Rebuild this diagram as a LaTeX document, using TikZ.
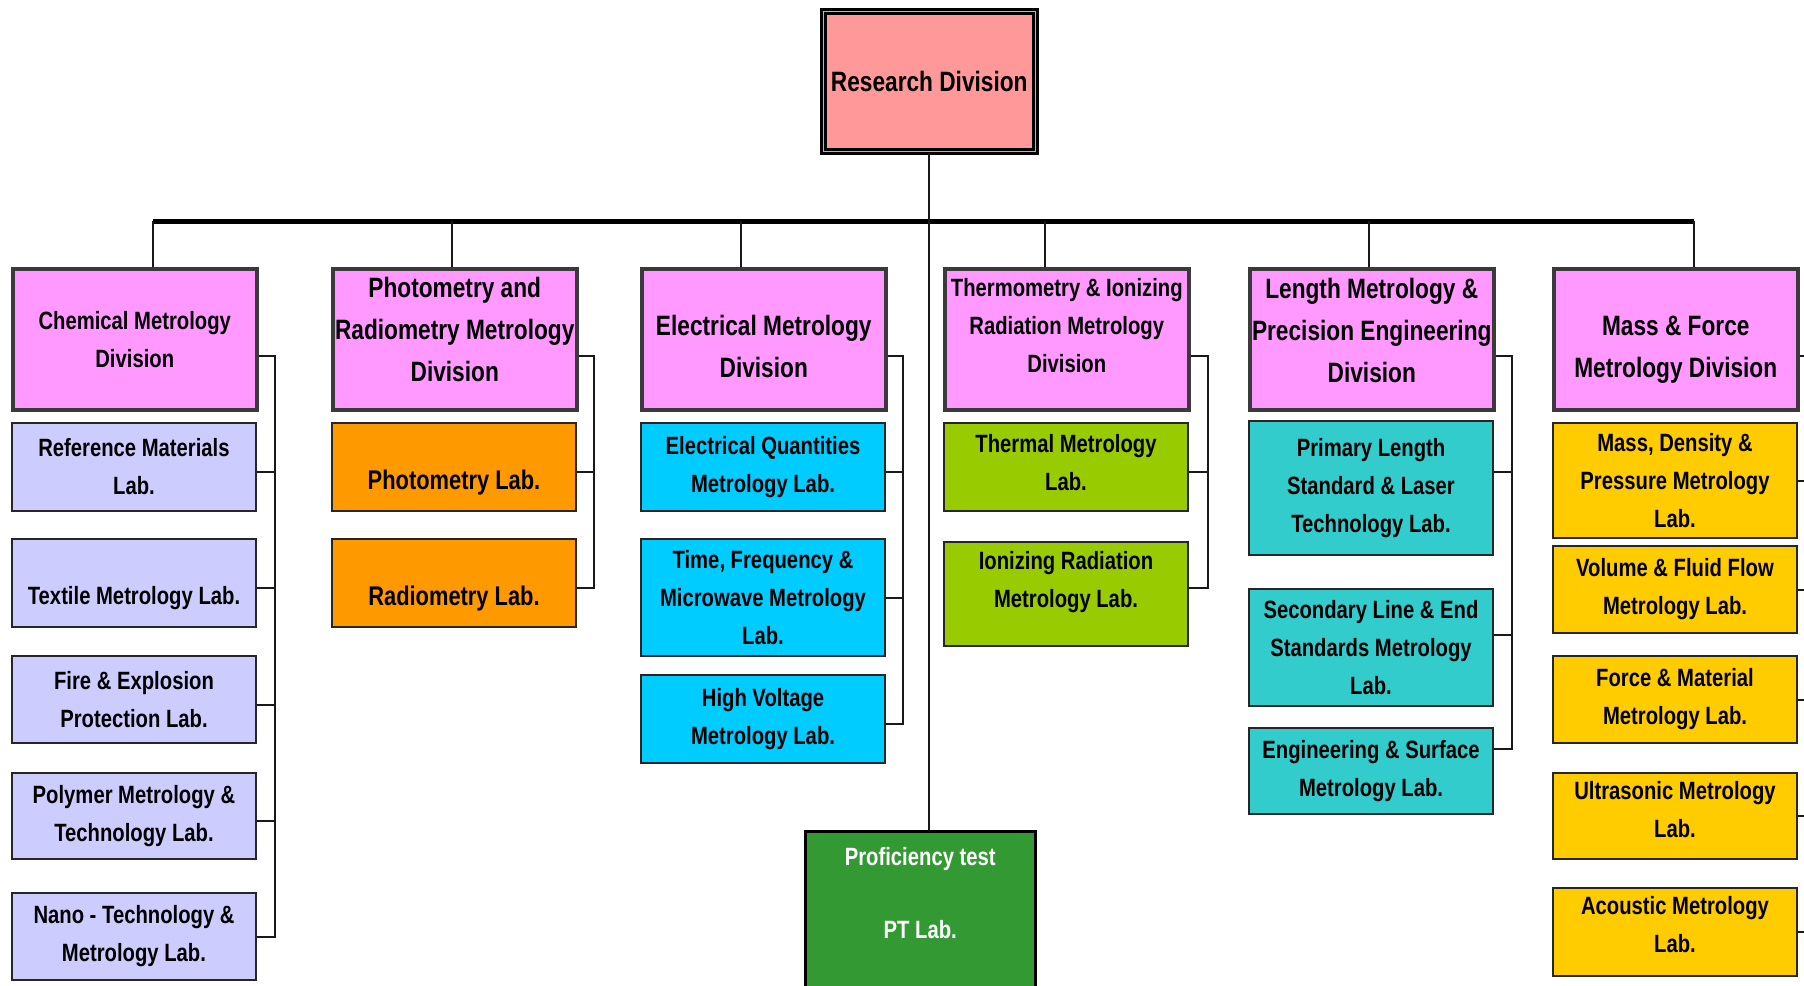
\documentclass[tikz,border=0pt]{standalone}
\usepackage{fontspec}
\newfontfamily\cond{Liberation Sans}[FakeStretch=0.81]
\newcommand\dn[1]{\rule[-#1]{0pt}{#1}}
\newcommand\upht[1]{\rule{0pt}{#1}}
\definecolor{rdpink}{HTML}{FF9999}
\definecolor{divpink}{HTML}{FF99FF}
\definecolor{chemc}{HTML}{CCCCFF}
\definecolor{photc}{HTML}{FF9900}
\definecolor{elecc}{HTML}{00CCFF}
\definecolor{thermc}{HTML}{99CC00}
\definecolor{lenc}{HTML}{33CCCC}
\definecolor{massc}{HTML}{FFCC00}
\definecolor{ptc}{HTML}{339933}
\definecolor{divborder}{HTML}{3A3A3A}
\tikzset{
  base/.style={rectangle, anchor=north west, inner sep=0pt, align=center,
    font=\cond\bfseries\fontsize{25}{38}\selectfont, minimum width=244pt},
  bigtxt/.style={font=\cond\bfseries\fontsize{28}{42}\selectfont},
  midtxt/.style={font=\cond\bfseries\fontsize{27}{40}\selectfont},
  divbox/.style={base, fill=divpink, draw=divborder, line width=3.5pt, minimum height=141pt},
  labbox/.style={base, draw=black!85, line width=2pt, fill=#1},
  lowtxt/.style={text height=#1, text depth=5pt},
  conn/.style={draw=black!90, line width=2pt},
  bus/.style={draw=black, line width=5pt},
}
\begin{document}
\begin{tikzpicture}[x=1pt,y=1pt]
\useasboundingbox (0,0) rectangle (1804,-985);
\begin{scope}
\clip (0,0) rectangle (1804,-985);
\fill[white] (0,0) rectangle (1804,-985);

% top
\node[base, bigtxt, anchor=north west, minimum width=212pt, minimum height=140pt,
  fill=rdpink, draw=black, double=rdpink, double distance=1.5pt, line width=2.5pt]
  (rd) at (822,-10) {Research Division};

% divisions
\node[divbox] (d1) at (11,-267) {Chemical Metrology\\Division};
\node[divbox, bigtxt] (d2) at (331,-267) {Photometry and\\Radiometry Metrology\\Division\dn{20pt}};
\node[divbox, bigtxt] (d3) at (640,-267) {\upht{35pt}Electrical Metrology\\Division};
\node[divbox] (d4) at (943,-267) {Thermometry \& Ionizing\\Radiation Metrology\\Division\dn{28pt}};
\node[divbox, bigtxt] (d5) at (1248,-267) {Length Metrology \&\\Precision Engineering\\Division\dn{17pt}};
\node[divbox, bigtxt] (d6) at (1552,-267) {\upht{41pt}Mass \& Force\\Metrology Division};

% chemical labs
\node[labbox=chemc, minimum height=88pt] (l11) at (11,-422) {Reference Materials\\Lab.};
\node[labbox=chemc, minimum height=88pt, lowtxt=47pt] (l12) at (11,-538) {Textile Metrology Lab.};
\node[labbox=chemc, minimum height=87pt] (l13) at (11,-655) {Fire \& Explosion\\Protection Lab.};
\node[labbox=chemc, minimum height=86pt] (l14) at (11,-772) {Polymer Metrology \&\\Technology Lab.};
\node[labbox=chemc, minimum height=87pt] (l15) at (11,-892) {Nano - Technology \&\\Metrology Lab.};

% photometry labs
\node[labbox=photc, midtxt, minimum height=88pt, lowtxt=50pt] (l21) at (331,-422) {Photometry Lab.};
\node[labbox=photc, midtxt, minimum height=88pt, lowtxt=50pt] (l22) at (331,-538) {Radiometry Lab.};

% electrical labs
\node[labbox=elecc, minimum height=88pt] (l31) at (640,-422) {Electrical Quantities\\Metrology Lab.};
\node[labbox=elecc, minimum height=117pt] (l32) at (640,-538) {Time, Frequency \&\\Microwave Metrology\\Lab.};
\node[labbox=elecc, minimum height=88pt] (l33) at (640,-674) {High Voltage\\Metrology Lab.};

% thermometry labs
\node[labbox=thermc, minimum height=88pt] (l41) at (943,-422) {Thermal Metrology\\Lab.\dn{9pt}};
\node[labbox=thermc, minimum height=104pt] (l42) at (943,-541) {Ionizing Radiation\\Metrology Lab.\dn{30pt}};

% length labs
\node[labbox=lenc, minimum height=134pt] (l51) at (1248,-420) {Primary Length\\Standard \& Laser\\Technology Lab.};
\node[labbox=lenc, minimum height=117pt] (l52) at (1248,-588) {Secondary Line \& End\\Standards Metrology\\Lab.};
\node[labbox=lenc, minimum height=86pt] (l53) at (1248,-727) {Engineering \& Surface\\Metrology Lab.};

% mass labs
\node[labbox=massc, minimum height=115pt] (l61) at (1552,-422) {Mass, Density \&\\Pressure Metrology\\Lab.};
\node[labbox=massc, minimum height=87pt] (l62) at (1552,-545) {Volume \& Fluid Flow\\Metrology Lab.};
\node[labbox=massc, minimum height=87pt] (l63) at (1552,-655) {Force \& Material\\Metrology Lab.};
\node[labbox=massc, minimum height=86pt] (l64) at (1552,-772) {Ultrasonic Metrology\\Lab.\dn{14pt}};
\node[labbox=massc, minimum height=88pt] (l65) at (1552,-887) {Acoustic Metrology\\Lab.\dn{16pt}};

% proficiency test
\node[base, fill=ptc, draw=black, line width=2.5pt, minimum width=230pt, text=white,
  text height=107pt, text depth=77pt] (pt) at (804,-830) {Proficiency test\\[35pt]PT Lab.};

% bus and stubs
\coordinate (s1) at (153,-221);
\coordinate (s2) at (452,-221);
\coordinate (s3) at (741,-221);
\coordinate (s4) at (1045,-221);
\coordinate (s5) at (1369,-221);
\coordinate (s6) at (1694,-221);
\draw[bus] (s1) -- (s6);
\draw[conn] (s1) -- (s1 |- d1.north);
\draw[conn] (s2) -- (s2 |- d2.north);
\draw[conn] (s3) -- (s3 |- d3.north);
\draw[conn] (s4) -- (s4 |- d4.north);
\draw[conn] (s5) -- (s5 |- d5.north);
\draw[conn] (s6) -- (s6 |- d6.north);
\draw[conn] (rd.south) -- (rd.south |- pt.north);

% brackets
\coordinate (b1) at (275,0);
\coordinate (b2) at (594,0);
\coordinate (b3) at (903,0);
\coordinate (b4) at (1208,0);
\coordinate (b5) at (1512,0);
\coordinate (b6) at (1817,0);

\draw[conn] ([yshift=-17pt]d1.east) -| (b1 |- l15.east) -- (l15.east);
\foreach \n in {l11,l12,l13,l14} \draw[conn] ([yshift=-5pt]\n.east) -- ([yshift=-5pt]\n.east -| b1);

\draw[conn] ([yshift=-17pt]d2.east) -| ([yshift=-5pt]b2 |- l22.east) -- ([yshift=-5pt]l22.east);
\draw[conn] ([yshift=-5pt]l21.east) -- ([yshift=-5pt]l21.east -| b2);

\draw[conn] ([yshift=-17pt]d3.east) -| ([yshift=-5pt]b3 |- l33.east) -- ([yshift=-5pt]l33.east);
\draw[conn] ([yshift=-5pt]l31.east) -- ([yshift=-5pt]l31.east -| b3);
\draw[conn] (l32.east) -- (l32.east -| b3);

\draw[conn] ([yshift=-17pt]d4.east) -| ([yshift=6pt]b4 |- l42.east) -- ([yshift=6pt]l42.east);
\draw[conn] ([yshift=-5pt]l41.east) -- ([yshift=-5pt]l41.east -| b4);

\draw[conn] ([yshift=-17pt]d5.east) -| ([yshift=22pt]b5 |- l53.east) -- ([yshift=22pt]l53.east);
\draw[conn] ([yshift=16pt]l51.east) -- ([yshift=16pt]l51.east -| b5);
\draw[conn] ([yshift=13pt]l52.east) -- ([yshift=13pt]l52.east -| b5);

\draw[conn] ([yshift=-17pt]d6.east) -| (b6 |- l65.east) -- (l65.east);
\foreach \n in {l61,l62,l63,l64} \draw[conn] (\n.east) -- (\n.east -| b6);
\end{scope}
\end{tikzpicture}
\end{document}
